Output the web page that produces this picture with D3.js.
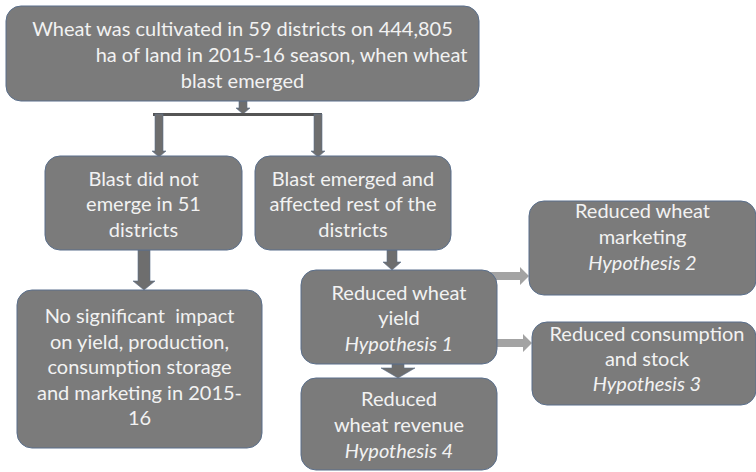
<!DOCTYPE html>
<meta charset="utf-8">
<style>
    body { margin: 0; background: #fff; }
    .box rect { fill: #7b7b7b; stroke: #5a6f8c; stroke-width: 1; }
    .box text { fill: #f2f2f2; font-family: Lato, "Open Sans", sans-serif; font-size: 20px; text-anchor: middle; dominant-baseline: central; white-space: pre; }
    .box text.hyp { font-style: italic; }
</style>
<body>
<svg id="chart" width="756" height="472"></svg>
</body>
<script src="https://d3js.org/d3.v7.min.js"></script>
<script>

    // box texts (each entry = lines, "*" prefix means italic)
    var topText = ["Wheat was cultivated in 59 districts on 444,805", "ha of land in 2015-16 season, when wheat", "blast emerged"];
    var noBlastText = ["Blast did not", "emerge in 51", "districts"];
    var blastText = ["Blast emerged and", "affected rest of the", "districts"];
    var noImpactText = ["No significant  impact", "on yield, production,", "consumption storage", "and marketing in 2015-", "16"];
    var yieldText = ["Reduced wheat", "yield", "*Hypothesis 1"];
    var revenueText = ["Reduced", "wheat revenue", "*Hypothesis 4"];
    var marketingText = ["Reduced wheat", "marketing", "*Hypothesis 2"];
    var consumptionText = ["Reduced consumption", "and stock", "*Hypothesis 3"];

    var svg = d3.select("#chart");

    // layout: box corners, line spacing, text offsets
    var boxes = [
        {id: "top", lines: topText, x0: 6, y0: 6, x1: 479, y1: 101, lh: 26, dx: [0, 39, 0]},
        {id: "noBlast", lines: noBlastText, x0: 45, y0: 156, x1: 242, y1: 250, lh: 25.5},
        {id: "blast", lines: blastText, x0: 255, y0: 156, x1: 451, y1: 250, lh: 25.5},
        {id: "noImpact", lines: noImpactText, x0: 17, y0: 290, x1: 262, y1: 448, lh: 25.5, cy: -3},
        {id: "yield", lines: yieldText, x0: 301, y0: 270, x1: 497, y1: 364, lh: 25.5},
        {id: "revenue", lines: revenueText, x0: 301, y0: 378, x1: 497, y1: 470, lh: 26},
        {id: "marketing", lines: marketingText, x0: 529, y0: 201, x1: 756, y1: 295, lh: 26, cy: -12},
        {id: "consumption", lines: consumptionText, x0: 532, y0: 322, x1: 756, y1: 405, lh: 25, cy: -6, cx: 3}
    ];

    var dark = "#6e6e6e", light = "#a3a3a3";

    // connectors
    function downArrow(cx, y0, y1, shaft, head, hh, color) {
        var p = d3.path();
        p.moveTo(cx - shaft / 2, y0);
        p.lineTo(cx + shaft / 2, y0);
        p.lineTo(cx + shaft / 2, y1 - hh);
        p.lineTo(cx + head / 2, y1 - hh);
        p.lineTo(cx, y1);
        p.lineTo(cx - head / 2, y1 - hh);
        p.lineTo(cx - shaft / 2, y1 - hh);
        p.closePath();
        svg.append("path").attr("d", p.toString()).attr("fill", color).attr("stroke", "#5a6f8c").attr("stroke-width", 0.6);
    }
    function rightArrow(cy, x0, x1, shaft, head, hw, color) {
        var p = d3.path();
        p.moveTo(x0, cy - shaft / 2);
        p.lineTo(x1 - hw, cy - shaft / 2);
        p.lineTo(x1 - hw, cy - head / 2);
        p.lineTo(x1, cy);
        p.lineTo(x1 - hw, cy + head / 2);
        p.lineTo(x1 - hw, cy + shaft / 2);
        p.lineTo(x0, cy + shaft / 2);
        p.closePath();
        svg.append("path").attr("d", p.toString()).attr("fill", color);
    }

    // split from top box
    downArrow(243, 101, 114, 8, 14, 6, dark);
    svg.append("rect").attr("x", 153).attr("y", 113).attr("width", 169).attr("height", 3).attr("fill", "#555");
    downArrow(159, 114, 157, 8, 14, 6, dark);
    downArrow(318, 114, 157, 8, 14, 6, dark);

    downArrow(144, 250, 290, 12, 22, 9, dark);
    downArrow(392, 250, 270, 10, 18, 8, dark);
    downArrow(398, 364, 378, 12, 34, 10, dark);

    rightArrow(276, 490, 529, 8, 18, 9, light);
    rightArrow(343, 490, 532, 8, 18, 9, light);

    var g = svg.selectAll("g.box").data(boxes).enter().append("g").attr("class", "box");

    g.append("rect")
        .attr("x", function (d) { return d.x0; })
        .attr("y", function (d) { return d.y0; })
        .attr("width", function (d) { return d.x1 - d.x0; })
        .attr("height", function (d) { return d.y1 - d.y0; })
        .attr("rx", 15).attr("ry", 15);

    g.each(function (d) {
        var gg = d3.select(this);
        var cx = (d.x0 + d.x1) / 2 + (d.cx || 0);
        var cy = (d.y0 + d.y1) / 2 + (d.cy || 0);
        var n = d.lines.length;
        d.lines.forEach(function (line, i) {
            var italic = line.charAt(0) === "*";
            gg.append("text")
                .attr("class", italic ? "hyp" : null)
                .attr("x", cx + (d.dx ? d.dx[i] : 0))
                .attr("y", cy + (i - (n - 1) / 2) * d.lh)
                .text(italic ? line.slice(1) : line);
        });
    });

</script>
